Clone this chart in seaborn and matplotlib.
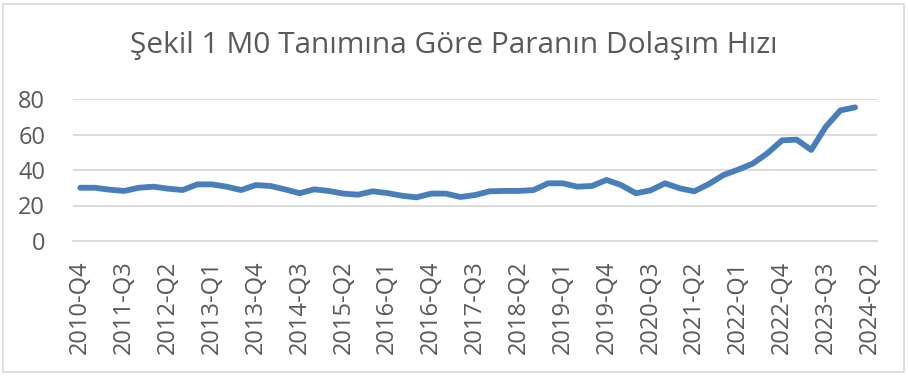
import numpy as np
import pandas as pd
import matplotlib
matplotlib.use("Agg")
import matplotlib.pyplot as plt
import seaborn as sns
from matplotlib.patches import Rectangle

title = "Şekil 1 M0 Tanımına Göre Paranın Dolaşım Hızı"

quarters = []
for y in range(2010, 2025):
    for q in range(1, 5):
        if (y == 2010 and q < 4) or (y == 2024 and q > 2):
            continue
        quarters.append(f"{y}-Q{q}")

velocity = [30.0, 30.0, 28.9, 28.2, 30.0, 30.6, 29.5, 28.7, 31.9, 31.9,
            30.6, 28.7, 31.5, 31.0, 29.1, 26.9, 29.1, 28.2, 26.7, 26.1,
            28.0, 27.0, 25.5, 24.6, 26.7, 26.7, 24.8, 25.9, 28.0, 28.2,
            28.2, 28.7, 32.5, 32.5, 30.6, 31.0, 34.4, 31.5, 26.9, 28.5,
            32.5, 29.7, 28.0, 32.1, 37.2, 40.2, 43.6, 49.4, 56.7, 57.1,
            51.3, 64.4, 73.6, 75.3, np.nan]

y_ticks = [0, 20, 40, 60, 80]

df = pd.DataFrame({"idx": np.arange(len(quarters)), "quarter": quarters, "v": velocity})

sns.set_theme(style="white")
plt.rcParams["font.family"] = ["Open Sans", "DejaVu Sans"]

fig = plt.figure(figsize=(9.08, 3.76), dpi=100)
ax = fig.add_axes([73/908, 1-241/376, 804/908, 142/376])

sns.lineplot(data=df.dropna(), x="idx", y="v", ax=ax, color="#4a7ebb", linewidth=4.2,
             solid_capstyle="round", solid_joinstyle="round", clip_on=False)

ax.set_xlim(-0.5, len(quarters) - 0.5)
ax.set_ylim(0, 80)
ax.set_yticks(y_ticks)
ax.set_yticklabels([str(t) for t in y_ticks], fontsize=17, color="#595959")
tick_pos = list(range(0, len(quarters), 3))
ax.set_xticks(tick_pos)
ax.set_xticklabels([quarters[i] for i in tick_pos], rotation=90, fontsize=17, color="#595959")
ax.tick_params(axis="both", length=0)
ax.tick_params(axis="y", pad=20)
ax.tick_params(axis="x", pad=14)
ax.grid(axis="y", color="#d9d9d9", linewidth=1.3)
ax.set_axisbelow(True)
for s in ["top", "right", "left"]:
    ax.spines[s].set_visible(False)
ax.spines["bottom"].set_color("#d9d9d9")
ax.spines["bottom"].set_linewidth(1.3)
ax.set_xlabel("")
ax.set_ylabel("")

fig.text(0.5, 1-45/376, title, ha="center", va="center", fontsize=21.5, color="#595959")

fig.patches.append(Rectangle((3/908, 4/376), 901/908, 368/376, transform=fig.transFigure,
                             fill=False, edgecolor="#d9d9d9", linewidth=1.2))

fig.savefig("out.png", dpi=100)
